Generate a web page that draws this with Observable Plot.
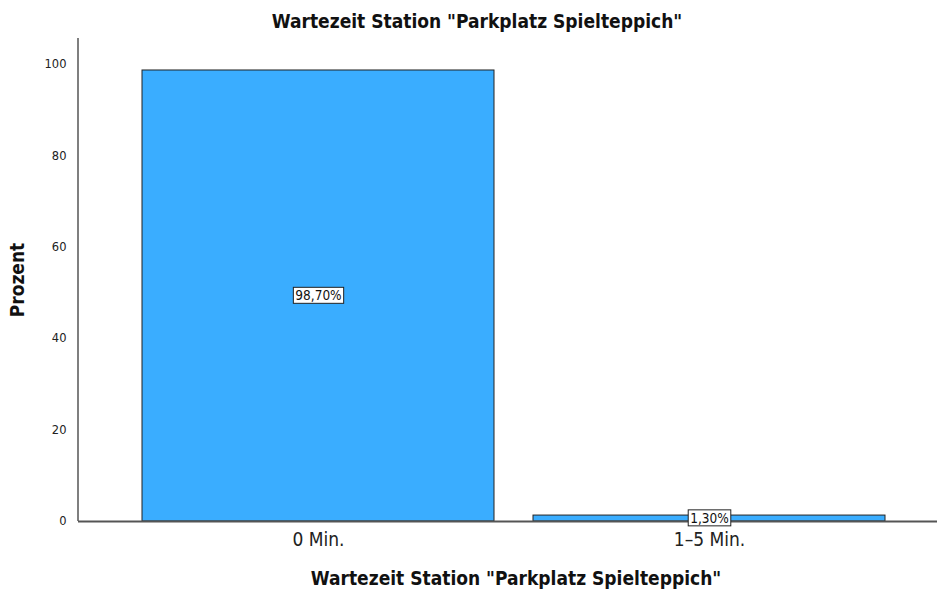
<!DOCTYPE html>
<html>
<head>
<meta charset="utf-8">
<script src="https://cdn.jsdelivr.net/npm/d3@7"></script>
<script src="https://cdn.jsdelivr.net/npm/@observablehq/plot@0.6"></script>
<style>
  body { margin: 0; background: #fff; }
  #chart svg { display: block; }
</style>
</head>
<body>
<div id="chart"></div>
<script>
const categories = ["0 Min.", "1–5 Min."];
const values = [98.7, 1.3];
const labels = ["98,70%", "1,30%"];
const yTicks = [0, 20, 40, 60, 80, 100];
const title = 'Wartezeit Station "Parkplatz Spielteppich"';
const xTitle = 'Wartezeit Station "Parkplatz Spielteppich"';
const yTitle = "Prozent";

const data = categories.map((c, i) => ({cat: c, value: values[i], label: labels[i]}));

const W = 937, H = 590;
const mL = 78, mR = 0, mT = 38, mB = 69;
const condensed = "'DejaVu Sans Condensed', 'DejaVu Sans', sans-serif";

const chart = Plot.plot({
  width: W,
  height: H,
  marginLeft: mL,
  marginRight: mR,
  marginTop: mT,
  marginBottom: mB,
  style: {fontFamily: "'DejaVu Sans', sans-serif", background: "#fff"},
  x: {domain: categories, paddingInner: 0.1, paddingOuter: 0.147, align: 0.55, label: null},
  y: {domain: [0, 105.7], label: null},
  marks: [
    Plot.barY(data, {x: "cat", y: "value", fill: "#3aadff", stroke: "#222", strokeWidth: 1}),
    Plot.axisY({ticks: yTicks, tickSize: 0, tickPadding: 12, fontSize: 11.5, color: "#222", label: null}),
    Plot.axisX({tickSize: 0, tickPadding: 11, fontSize: 19, fontFamily: condensed, color: "#222", label: null}),
    Plot.ruleY([0], {stroke: "#555", strokeWidth: 2}),
    Plot.text(data, {x: "cat", y: d => d.value / 2, text: "label", fontSize: 13.5, fontFamily: condensed, fill: "#111", className: "vlabel"})
  ]
});

document.getElementById("chart").appendChild(chart);

const svg = d3.select(chart);
const ys = chart.scale("y");

// y axis line
svg.append("line")
  .attr("x1", mL).attr("x2", mL)
  .attr("y1", ys.range[0]).attr("y2", ys.range[1])
  .attr("stroke", "#555").attr("stroke-width", 1.5);

// boxes around value labels
svg.selectAll("g.vlabel text").each(function () {
  const bb = this.getBBox();
  const r = d3.select(this.parentNode).insert("rect", () => this)
    .attr("x", bb.x - 2).attr("y", bb.y)
    .attr("width", bb.width + 4).attr("height", bb.height)
    .attr("fill", "#fff").attr("stroke", "#222").attr("stroke-width", 1);
  const t = this.getAttribute("transform");
  if (t) r.attr("transform", t);
});

function addText(x, y, txt, rotate) {
  const t = svg.append("text")
    .attr("text-anchor", "middle")
    .attr("font-family", condensed)
    .attr("font-weight", "bold").attr("font-size", 19).attr("fill", "#111")
    .text(txt);
  if (rotate) t.attr("transform", `translate(${x},${y}) rotate(-90)`);
  else t.attr("x", x).attr("y", y);
}
addText(477, 28, title);
addText(516, 585, xTitle);
addText(24, 280, yTitle, true);
</script>
</body>
</html>
